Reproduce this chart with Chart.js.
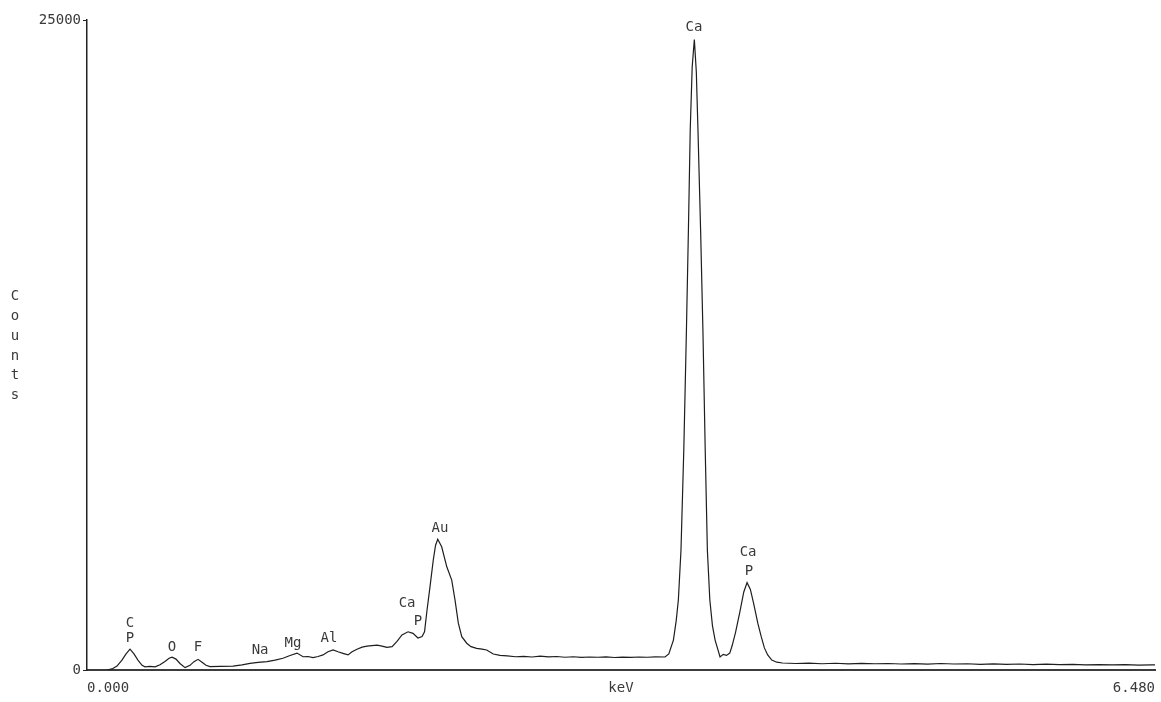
<!DOCTYPE html>
<html>
<head>
<meta charset="utf-8">
<script src="https://cdn.jsdelivr.net/npm/chart.js@4/dist/chart.umd.min.js"></script>
<style>
  html, body { margin: 0; padding: 0; background: #ffffff; }
  #wrap { width: 1161px; height: 702px; }
</style>
</head>
<body>
<div id="wrap"><canvas id="c" width="1161" height="702"></canvas></div>
<script>
// ---- data ----
const energyKeV = [
  0.121, 0.152, 0.182, 0.212, 0.237, 0.261, 0.285, 0.309, 0.334, 0.352,
  0.382, 0.413, 0.443, 0.473, 0.498, 0.516, 0.540, 0.564, 0.595, 0.625,
  0.649, 0.674, 0.698, 0.722, 0.746, 0.807, 0.886, 0.941, 0.989, 1.038,
  1.092, 1.141, 1.189, 1.232, 1.274, 1.311, 1.341, 1.371, 1.402, 1.432,
  1.462, 1.493, 1.523, 1.553, 1.584, 1.608, 1.638, 1.669, 1.699, 1.729,
  1.760, 1.790, 1.820, 1.851, 1.881, 1.911, 1.948, 1.978, 2.008, 2.033,
  2.048, 2.063, 2.081, 2.101, 2.115, 2.128, 2.152, 2.183, 2.213, 2.233,
  2.253, 2.274, 2.304, 2.330, 2.364, 2.397, 2.425, 2.465, 2.506, 2.550,
  2.600, 2.650, 2.700, 2.750, 2.800, 2.850, 2.900, 2.950, 3.000, 3.050,
  3.100, 3.150, 3.200, 3.250, 3.300, 3.350, 3.400, 3.450, 3.507, 3.530,
  3.558, 3.575, 3.588, 3.604, 3.621, 3.637, 3.649, 3.660, 3.672, 3.685,
  3.697, 3.707, 3.723, 3.737, 3.751, 3.764, 3.779, 3.795, 3.811, 3.841,
  3.860, 3.880, 3.900, 3.915, 3.935, 3.960, 3.985, 4.005, 4.025, 4.045,
  4.070, 4.090, 4.110, 4.130, 4.155, 4.185, 4.220, 4.300, 4.380, 4.460,
  4.540, 4.620, 4.700, 4.780, 4.860, 4.940, 5.020, 5.100, 5.180, 5.260,
  5.340, 5.420, 5.500, 5.580, 5.660, 5.740, 5.820, 5.900, 5.980, 6.060,
  6.140, 6.220, 6.300, 6.380, 6.460, 6.480
];
const counts = [
  0, 40, 150, 380, 620, 800, 620, 380, 180, 120,
  140, 120, 200, 330, 450, 490, 420, 250, 90, 180,
  320, 410, 300, 180, 130, 140, 150, 200, 255, 290,
  320, 380, 450, 560, 650, 510, 520, 475, 520, 580,
  700, 770, 700, 640, 580, 700, 800, 880, 920, 940,
  960, 920, 870, 900, 1100, 1350, 1470, 1410, 1230, 1290,
  1470, 2300, 3200, 4230, 4800, 5030, 4740, 3970, 3460, 2690,
  1800, 1280, 1030, 900, 830, 800, 770, 615, 560, 540,
  510, 525, 500, 530, 505, 520, 490, 510, 485, 500,
  490, 505, 480, 495, 485, 500, 490, 505, 500, 620,
  1150, 1900, 2690, 4615, 8460, 13080, 16920, 20770, 23200, 24250,
  23000, 20770, 16920, 13080, 8460, 4615, 2690, 1700, 1150, 500,
  600, 560, 650, 950, 1450, 2200, 3000, 3360, 3100, 2550,
  1800, 1300, 850, 580, 380, 300, 270, 250, 265, 240,
  260, 235, 255, 240, 250, 230, 245, 225, 250, 230,
  240, 220, 235, 215, 230, 210, 225, 205, 215, 200,
  210, 195, 205, 190, 200, 195
];

// peak annotations (text, energy, counts at text centre)
const peakLabels = ["C", "P", "O", "F", "Na", "Mg", "Al", "Ca", "P", "Au", "Ca", "Ca", "P"];
const labelKeV   = [0.261, 0.261, 0.516, 0.674, 1.050, 1.250, 1.468, 1.942, 2.008, 2.142, 3.683, 4.011, 4.017];
const labelCounts= [1808, 1212, 865, 865, 770, 1040, 1212, 2558, 1865, 5460, 24710, 4520, 3810];

const xTickValues = [0, 3.24, 6.48];
const xTickLabels = ["0.000", "keV", "6.480"];
const yTickValues = [0, 25000];
const yTickLabels = ["0", "25000"];
const yAxisTitle = "Counts";

const FONT = '"DejaVu Sans Mono", "Liberation Mono", monospace';
const TEXT_COLOR = '#3a3a3a';

const points = energyKeV.map((e, i) => ({ x: e, y: counts[i] }));

const annotate = {
  id: 'annotate',
  afterDatasetsDraw(chart) {
    const { ctx, scales: { x, y } } = chart;
    ctx.save();
    ctx.fillStyle = TEXT_COLOR;
    ctx.font = '14px ' + FONT;
    ctx.textAlign = 'center';
    ctx.textBaseline = 'middle';
    peakLabels.forEach((t, i) => {
      ctx.fillText(t, x.getPixelForValue(labelKeV[i]), y.getPixelForValue(labelCounts[i]));
    });
    // vertical stacked axis title
    const letters = yAxisTitle.split('');
    const midY = (y.top + y.bottom) / 2;
    const step = 19.8;
    const start = midY - step * (letters.length - 1) / 2 + 1;
    letters.forEach((ch, i) => ctx.fillText(ch, 15, start + i * step));
    ctx.restore();
  }
};

new Chart(document.getElementById('c'), {
  type: 'line',
  data: {
    datasets: [{
      data: points,
      borderColor: '#1e1e1e',
      borderWidth: 1.2,
      pointRadius: 0,
      tension: 0,
      fill: false
    }]
  },
  options: {
    responsive: false,
    animation: false,
    layout: { padding: { left: 0, right: 6, top: 20, bottom: 0 } },
    plugins: { legend: { display: false }, tooltip: { enabled: false } },
    scales: {
      x: {
        type: 'linear',
        min: 0,
        max: 6.48,
        afterBuildTicks: s => { s.ticks = xTickValues.map(v => ({ value: v })); },
        afterFit: s => { s.height = 32; s.paddingLeft = 0; s.paddingRight = 0; },
        ticks: {
          align: 'inner',
          maxRotation: 0,
          autoSkip: false,
          padding: 10,
          color: TEXT_COLOR,
          font: { family: FONT, size: 14 },
          callback: (v, i) => xTickLabels[i]
        },
        grid: { display: false, drawTicks: false },
        border: { display: true, color: '#3c3c3c', width: 2 }
      },
      y: {
        type: 'linear',
        min: 0,
        max: 25000,
        afterBuildTicks: s => { s.ticks = yTickValues.map(v => ({ value: v })); },
        afterFit: s => { s.width = 87; },
        ticks: {
          autoSkip: false,
          padding: 2,
          color: TEXT_COLOR,
          font: { family: FONT, size: 14 },
          callback: (v, i) => yTickLabels[i]
        },
        grid: { drawOnChartArea: false, drawTicks: true, tickLength: 4, color: '#222' },
        border: { display: true, color: '#222', width: 1.5 }
      }
    }
  },
  plugins: [annotate]
});
</script>
</body>
</html>
